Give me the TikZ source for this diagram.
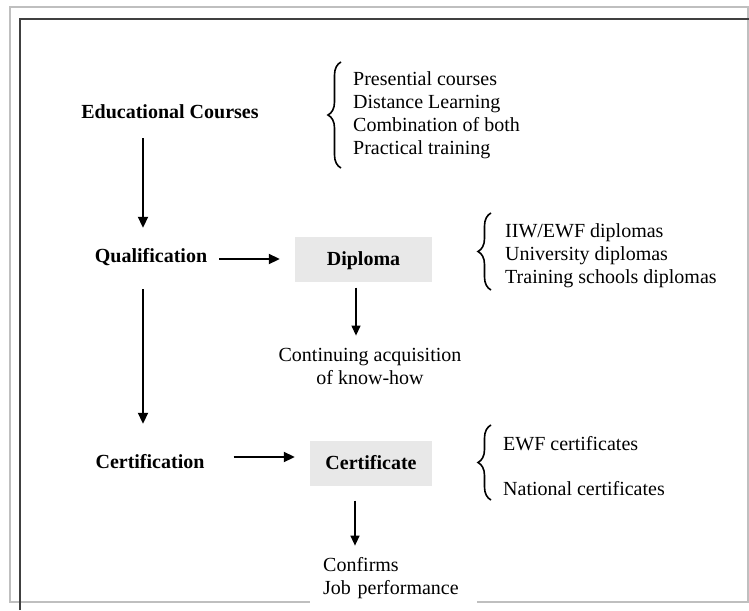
\documentclass[tikz,border=0pt]{standalone}
\usepackage{fontspec}
\setmainfont{Liberation Serif}
\usetikzlibrary{arrows.meta,decorations.pathreplacing}

\begin{document}
\begin{tikzpicture}[x=1pt,y=-1pt,
  every node/.style={font=\fontsize{20pt}{23pt}\selectfont, inner sep=0pt},
  stage/.style={font=\fontsize{20pt}{23pt}\selectfont\bfseries, text height=15pt, text depth=3pt},
  paper/.style={stage, fill=gray!18, minimum height=45pt},
  list/.style={align=left, anchor=west},
  bigarrow/.style={line width=1.9pt, -{Triangle[length=11pt,width=10pt]}},
  smallarrow/.style={line width=1.3pt, -{Triangle[length=10pt,width=9pt]}},
  curly/.style={line width=1.6pt, decorate, decoration={brace, amplitude=13pt}}]
\useasboundingbox (0,0) rectangle (749,610);
% page frame
\draw[black!25, line width=1.5pt] (10,7) rectangle (748,602);
\draw[black!75, line width=1.2pt] (20,610) -- (20,19) -- (749,19);

% main column
\node[stage] (edu) at (170,112) {Educational Courses};
\node[stage] (qual) at (151,256) {Qualification};
\node[stage] (certif) at (150,462) {Certification};
\coordinate (spine) at (143,0);

% what each step gives
\node[paper, minimum width=137pt] (dipl) at (363.5,259) {Diploma};
\node[paper, minimum width=122pt] (cfc) at (371,463) {Certificate};
\node[align=center] (knowhow) at (370,366) {Continuing acquisition\\of know-how};
\node[align=left, fill=white, text width=141pt, inner xsep=13pt, inner ysep=6pt, anchor=west] (confirm) at (310,578.5) {Confirms\\Job performance};

% lists
\node[list] (courses) at (353,115) {Presential courses\\Distance Learning\\Combination of both\\Practical training};
\node[list] (diplomas) at (505,255.5) {IIW/EWF diplomas\\University diplomas\\Training schools diplomas};
\node[list] (certs) at (503,466) {EWF certificates\\[22pt]National certificates};
\draw[curly] (341,168) -- (341,62);
\draw[curly] (491,290) -- (491,213);
\draw[curly] (491,500) -- (491,425);

% arrows
\draw[bigarrow, shorten <=17pt, shorten >=19pt] (edu.south -| spine) -- (qual.north -| spine);
\draw[bigarrow, shorten <=24pt, shorten >=29pt] (qual.south -| spine) -- (certif.north -| spine);
\draw[bigarrow, shorten <=12pt, shorten >=15pt] ([yshift=-3pt]qual.east) -- ([yshift=-3pt]qual.east -| dipl.west);
\draw[bigarrow, shorten <=29pt, shorten >=15pt] ([yshift=5pt]certif.east) -- ([yshift=5pt]certif.east -| cfc.west);
\draw[smallarrow, shorten <=6pt, shorten >=12pt] ([xshift=-7.5pt]dipl.south) -- ([xshift=-7.5pt]dipl.south |- knowhow.north);
\draw[smallarrow, shorten <=15pt, shorten >=6pt] ([xshift=-16pt]cfc.south) -- ([xshift=-16pt]cfc.south |- confirm.north);
\end{tikzpicture}
\end{document}
